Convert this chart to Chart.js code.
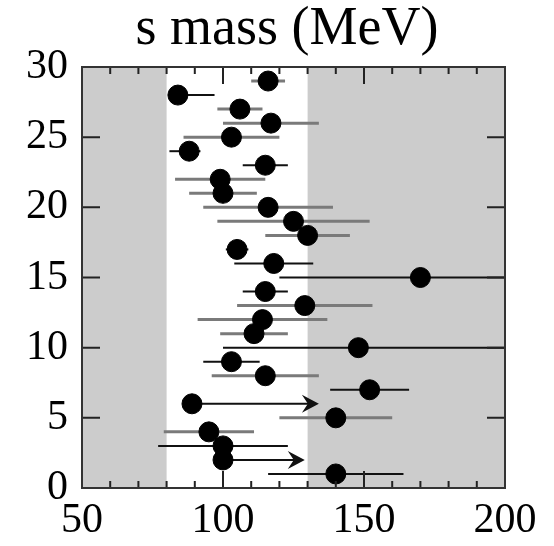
<!DOCTYPE html>
<html>
<head>
<meta charset="utf-8">
<script src="https://cdn.jsdelivr.net/npm/chart.js@4"></script>
<style>
  html, body { margin: 0; padding: 0; background: #fff; }
</style>
</head>
<body>
<canvas id="smass" width="554" height="546"></canvas>
<script>
// measurements, top to bottom
const Y_POS  = [29, 28, 27, 26, 25, 24, 23, 22, 21, 20, 19, 18, 17, 16, 15,
                14, 13, 12, 11, 10, 9, 8, 7, 6, 5, 4, 3, 2, 1];
const MASS   = [116, 84, 106, 117, 103, 88, 115, 99, 100, 116, 125, 130, 105, 118, 170,
                115, 129, 114, 111, 148, 103, 115, 152, 89, 140, 95, 100, 100, 140];
const ERR_LO = [110, 81, 98, 100, 86, 81, 107, 83, 88, 93, 98, 115, 101, 104, 120,
                107, 105, 91, 99, 100, 93, 96, 138, null, 120, 79, 77, null, 116];
const ERR_HI = [122, 97, 114, 134, 120, 92, 123, 115, 112, 139, 152, 145, 109, 132, 200,
                123, 153, 137, 123, 200, 113, 134, 166, null, 160, 111, 123, null, 164];
// 'k' = black bar, 'g' = grey bar
const TONE   = ['g', 'k', 'g', 'g', 'g', 'k', 'k', 'g', 'g', 'g', 'g', 'g', 'k', 'k', 'k',
                'k', 'g', 'g', 'g', 'k', 'k', 'g', 'k', 'k', 'g', 'g', 'k', 'k', 'k'];

// lower limits drawn as arrows
const ARROW_Y    = [6, 2];
const ARROW_FROM = [89, 100];
const ARROW_TO   = [134, 129];

// shaded bands outside the window
const BAND_LO = 80;
const BAND_HI = 130;

const X_TICKS = [50, 100, 150, 200];
const Y_TICKS = [0, 5, 10, 15, 20, 25, 30];

const SERIF = '"Liberation Serif", "DejaVu Serif", serif';

const decor = {
    id: 'decor',
    afterLayout(chart) {
        // centre the title roughly over the plot frame
        const tb = chart.titleBlock;
        if (tb) {
            tb.left = chart.chartArea.left - 13;
            tb.right = chart.chartArea.right;
        }
    },
    beforeDatasetsDraw(chart) {
        const { ctx, chartArea: a, scales: { x, y } } = chart;
        ctx.save();
        ctx.fillStyle = '#cccccc';
        ctx.fillRect(a.left, a.top, x.getPixelForValue(BAND_LO) - a.left, a.bottom - a.top);
        const hx = x.getPixelForValue(BAND_HI);
        ctx.fillRect(hx, a.top, a.right - hx, a.bottom - a.top);

        // error bars
        ctx.beginPath();
        ctx.rect(a.left, a.top, a.right - a.left, a.bottom - a.top);
        ctx.clip();
        Y_POS.forEach((yv, i) => {
            if (ERR_LO[i] == null) return;
            const py = y.getPixelForValue(yv);
            ctx.beginPath();
            ctx.strokeStyle = TONE[i] === 'k' ? '#111' : '#7a7a7a';
            ctx.lineWidth = TONE[i] === 'k' ? 2 : 3;
            ctx.moveTo(x.getPixelForValue(ERR_LO[i]), py);
            ctx.lineTo(x.getPixelForValue(ERR_HI[i]), py);
            ctx.stroke();
        });

        // arrows
        ARROW_Y.forEach((yv, i) => {
            const py = y.getPixelForValue(yv);
            const x0 = x.getPixelForValue(ARROW_FROM[i]);
            const x1 = x.getPixelForValue(ARROW_TO[i]);
            ctx.beginPath();
            ctx.strokeStyle = '#111';
            ctx.lineWidth = 2;
            ctx.moveTo(x0, py);
            ctx.lineTo(x1 - 8, py);
            ctx.stroke();
            ctx.beginPath();
            ctx.fillStyle = '#111';
            ctx.moveTo(x1, py);
            ctx.lineTo(x1 - 17, py - 9);
            ctx.lineTo(x1 - 11, py);
            ctx.lineTo(x1 - 17, py + 9);
            ctx.closePath();
            ctx.fill();
        });
        ctx.restore();
    },
    afterDraw(chart) {
        const { ctx, chartArea: a, scales: { x, y } } = chart;
        ctx.save();
        ctx.strokeStyle = '#222';
        ctx.lineWidth = 2;
        ctx.beginPath();
        for (let v = 50; v <= 200; v += 10) {
            const px = x.getPixelForValue(v);
            const len = X_TICKS.includes(v) ? 17 : 7;
            ctx.moveTo(px, a.top); ctx.lineTo(px, a.top + len);
            ctx.moveTo(px, a.bottom); ctx.lineTo(px, a.bottom - len);
        }
        Y_TICKS.forEach(v => {
            const py = y.getPixelForValue(v);
            ctx.moveTo(a.left, py); ctx.lineTo(a.left + 18, py);
            ctx.moveTo(a.right, py); ctx.lineTo(a.right - 18, py);
        });
        ctx.stroke();
        ctx.strokeStyle = '#333';
        ctx.strokeRect(a.left, a.top, a.right - a.left, a.bottom - a.top);
        ctx.restore();
    }
};

window.onload = () => {
    new Chart(document.getElementById('smass'), {
        type: 'scatter',
        data: {
            datasets: [{
                data: Y_POS.map((yv, i) => ({ x: MASS[i], y: yv })),
                backgroundColor: '#000',
                borderColor: '#000',
                pointRadius: 10,
                pointHoverRadius: 10
            }]
        },
        options: {
            responsive: false,
            animation: false,
            devicePixelRatio: 1,
            layout: { padding: { left: 22, right: 49, top: 0, bottom: 0 } },
            plugins: {
                legend: { display: false },
                tooltip: { enabled: false },
                title: {
                    display: true,
                    text: 's mass (MeV)',
                    color: '#000',
                    font: { family: SERIF, size: 54, weight: 'normal', lineHeight: 1.1 },
                    padding: { top: 0, bottom: 7.6 }
                }
            },
            scales: {
                x: {
                    type: 'linear', min: 50, max: 200,
                    grid: { display: false },
                    border: { display: false },
                    afterBuildTicks: s => { s.ticks = X_TICKS.map(v => ({ value: v })); },
                    afterFit: s => { s.height = 58; },
                    ticks: { color: '#000', padding: 0, maxRotation: 0,
                             font: { family: SERIF, size: 42 } }
                },
                y: {
                    type: 'linear', min: 0, max: 30,
                    grid: { display: false },
                    border: { display: false },
                    afterBuildTicks: s => { s.ticks = Y_TICKS.map(v => ({ value: v })); },
                    afterFit: s => { s.width = 60; },
                    ticks: { color: '#000', padding: 6,
                             font: { family: SERIF, size: 42 } }
                }
            }
        },
        plugins: [decor]
    });
};
</script>
</body>
</html>
